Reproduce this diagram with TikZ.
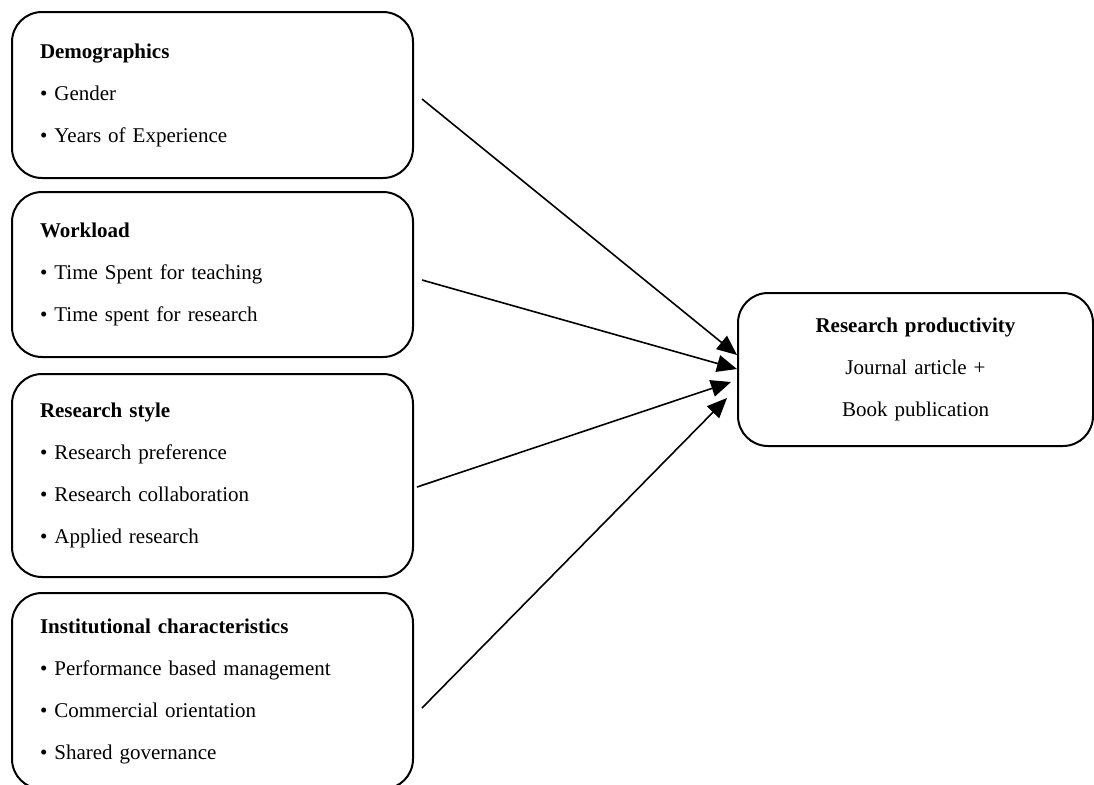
\documentclass[tikz,border=0pt]{standalone}
\usepackage{fontspec}
\setmainfont{Liberation Serif}
\usetikzlibrary{arrows.meta,positioning}
\tikzset{
  factor/.style  = {draw, line width=1pt, rounded corners=15pt, align=left,
                    text width=172.5pt, inner xsep=14pt, inner ysep=0pt,
                    font=\fontsize{10.5}{21}\selectfont},
  outcome/.style = {draw, line width=1pt, rounded corners=15pt, align=center,
                    text width=150pt, minimum width=177.5pt, minimum height=76.5pt,
                    font=\fontsize{10.5}{21}\selectfont},
  link/.style    = {-{Triangle[length=10pt,width=8.5pt]}, line width=0.8pt},
}
\begin{document}
\begin{tikzpicture}[x=0.5pt,y=-0.5pt]
  \useasboundingbox (0,0) rectangle (1094,784);
  \node[factor, minimum height=83pt] (demo) at (212.5,95)
      {\textbf{Demographics}\\• Gender\\• Years of Experience};
  \node[factor, minimum height=82.5pt, below=6pt of demo] (work)
      {\textbf{Workload}\\• Time Spent for teaching\\• Time spent for research};
  \node[factor, minimum height=101.5pt, below=7.5pt of work] (style)
      {\textbf{Research style}\\• Research preference\\• Research collaboration\\• Applied research};
  \node[factor, minimum height=98pt, below=7pt of style] (inst)
      {\textbf{Institutional characteristics}\\• Performance based management\\• Commercial orientation\\• Shared governance};
  \node[outcome] (prod) at (915.5,369.5)
      {\textbf{Research productivity}\\Journal article +\\Book publication};
  \draw[link] ([xshift=4pt,yshift=-2pt]demo.east) -- ([yshift=7.25pt]prod.west);
  \draw[link] ([xshift=4pt,yshift=-2.75pt]work.east) -- ([yshift=0.25pt]prod.west);
  \draw[link] ([xshift=1.5pt,yshift=-5.75pt]style.east) -- ([xshift=-3pt,yshift=-6.25pt]prod.west);
  \draw[link] ([xshift=4pt,yshift=-8.5pt]inst.east) -- ([xshift=-5pt,yshift=-14.25pt]prod.west);
\end{tikzpicture}
\end{document}
